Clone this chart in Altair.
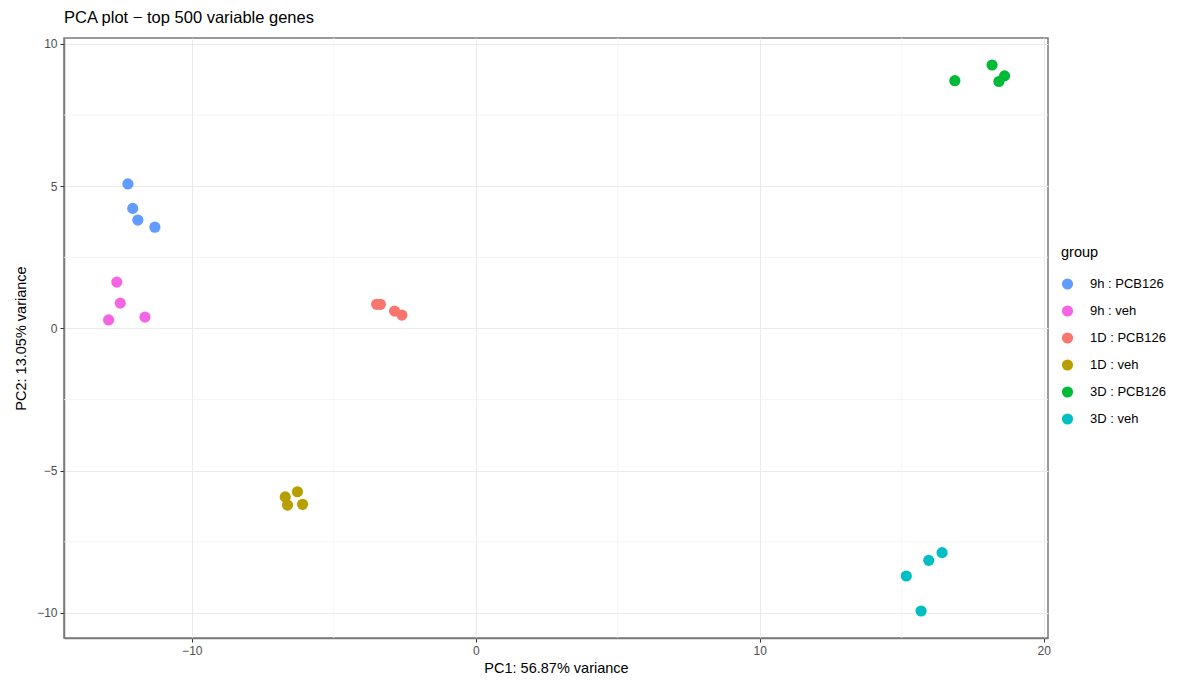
import altair as alt
import pandas as pd

groups = ["9h : PCB126", "9h : veh", "1D : PCB126", "1D : veh", "3D : PCB126", "3D : veh"]
colors = ["#619CFF", "#F564E3", "#F8766D", "#B79F00", "#00BA38", "#00BFC4"]

pc1 = {
    "9h : PCB126": [-12.25, -12.08, -11.90, -11.30],
    "9h : veh": [-12.64, -12.52, -12.93, -11.65],
    "1D : PCB126": [-3.49, -3.36, -2.86, -2.60],
    "1D : veh": [-6.71, -6.63, -6.28, -6.10],
    "3D : PCB126": [16.87, 18.18, 18.42, 18.62],
    "3D : veh": [15.16, 15.95, 16.42, 15.68],
}
pc2 = {
    "9h : PCB126": [5.08, 4.22, 3.81, 3.56],
    "9h : veh": [1.63, 0.89, 0.30, 0.40],
    "1D : PCB126": [0.85, 0.85, 0.61, 0.47],
    "1D : veh": [-5.92, -6.21, -5.74, -6.18],
    "3D : PCB126": [8.71, 9.26, 8.68, 8.88],
    "3D : veh": [-8.70, -8.15, -7.88, -9.93],
}

x_major = [-10, 0, 10, 20]
y_major = [-10, -5, 0, 5, 10]
x_minor = [-5, 5, 15]
y_minor = [-7.5, -2.5, 2.5, 7.5]

rows = []
for g in groups:
    for a, b in zip(pc1[g], pc2[g]):
        rows.append({"PC1": a, "PC2": b, "group": g})
df = pd.DataFrame(rows)

xdom = [-14.5, 20.15]
ydom = [-10.88, 10.21]
FONT = "Liberation Sans"
BORDER = "#7A7A7A"

xscale = alt.Scale(domain=xdom, nice=False, zero=False)
yscale = alt.Scale(domain=ydom, nice=False, zero=False)

minor_x = alt.Chart(pd.DataFrame({"v": x_minor})).mark_rule(
    color="#F2F2F2", strokeWidth=0.8
).encode(x=alt.X("v:Q", scale=xscale))

minor_y = alt.Chart(pd.DataFrame({"v": y_minor})).mark_rule(
    color="#F2F2F2", strokeWidth=0.8
).encode(y=alt.Y("v:Q", scale=yscale))

points = alt.Chart(df).mark_circle(size=125, opacity=1).encode(
    x=alt.X(
        "PC1:Q",
        scale=xscale,
        title="PC1: 56.87% variance",
        axis=alt.Axis(values=x_major, grid=True, gridColor="#EBEBEB", gridWidth=1,
                      domain=True, domainColor=BORDER, domainWidth=1.5,
                      ticks=True, tickSize=4, tickColor="#333333",
                      labelColor="#4D4D4D", labelFontSize=12, labelFont=FONT,
                      labelPadding=3, titleFont=FONT, titleFontSize=14.5,
                      titleFontWeight="normal", titleColor="#000000", titlePadding=5),
    ),
    y=alt.Y(
        "PC2:Q",
        scale=yscale,
        title="PC2: 13.05% variance",
        axis=alt.Axis(values=y_major, grid=True, gridColor="#EBEBEB", gridWidth=1,
                      domain=True, domainColor=BORDER, domainWidth=1.5,
                      ticks=True, tickSize=4, tickColor="#333333",
                      labelColor="#4D4D4D", labelFontSize=12, labelFont=FONT,
                      labelPadding=3, titleFont=FONT, titleFontSize=14.5,
                      titleFontWeight="normal", titleColor="#000000", titlePadding=8),
    ),
    color=alt.Color(
        "group:N",
        scale=alt.Scale(domain=groups, range=colors),
        sort=groups,
        legend=alt.Legend(
            title="group", orient="none", legendX=997, legendY=208,
            titleFont=FONT, titleFontSize=14.5, titleFontWeight="normal",
            titleColor="#000000", titlePadding=17,
            labelFont=FONT, labelFontSize=13, labelColor="#000000",
            symbolType="circle", symbolSize=125, symbolStrokeWidth=0,
            rowPadding=13, labelOffset=16,
        ),
    ),
)

chart = alt.layer(minor_x, minor_y, points).properties(
    width=984,
    height=600,
    background="white",
    title=alt.TitleParams(
        "PCA plot \u2212 top 500 variable genes", anchor="start", font=FONT,
        fontSize=16.5, fontWeight="normal", color="#000000", offset=11, frame="group",
    ),
    autosize=alt.AutoSizeParams(type="none"),
    padding={"left": 56, "top": 30, "right": 124, "bottom": 38},
).configure_view(stroke=BORDER, strokeWidth=1.5)

chart.save("out.html", embed_options={"renderer": "svg", "actions": False})
